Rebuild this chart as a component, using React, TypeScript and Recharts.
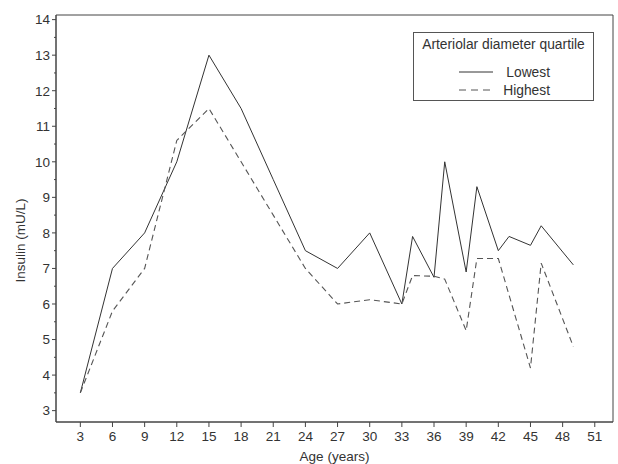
import React from 'react';
import { LineChart, Line, XAxis, YAxis, ReferenceArea, Legend } from 'recharts';

const lowestAges = [3, 6, 9, 12, 15, 18, 21, 24, 27, 30, 33, 34, 36, 37, 39, 40, 42, 43, 45, 46, 49];
const lowestValues = [3.5, 7.0, 8.0, 10.0, 13.0, 11.5, 9.5, 7.5, 7.0, 8.0, 6.0, 7.9, 6.75, 10.0, 6.9, 9.3, 7.5, 7.9, 7.65, 8.2, 7.1];
const highestAges = [3, 6, 9, 12, 15, 18, 21, 24, 27, 30, 33, 34, 36, 37, 39, 40, 42, 45, 46, 49];
const highestValues = [3.5, 5.8, 7.0, 10.6, 11.5, 10.0, 8.5, 7.0, 6.0, 6.12, 6.0, 6.8, 6.78, 6.7, 5.25, 7.28, 7.28, 4.2, 7.15, 4.8];
const xTicks = [3, 6, 9, 12, 15, 18, 21, 24, 27, 30, 33, 36, 39, 42, 45, 48, 51];
const yTicks = [3, 3.5, 4, 4.5, 5, 5.5, 6, 6.5, 7, 7.5, 8, 8.5, 9, 9.5, 10, 10.5, 11, 11.5, 12, 12.5, 13, 13.5, 14];
const seriesNames = ['Lowest', 'Highest'];
const legendTitle = 'Arteriolar diameter quartile';

const lowestData = lowestAges.map((a, i) => ({ age: a, value: lowestValues[i] }));
const highestData = highestAges.map((a, i) => ({ age: a, value: highestValues[i] }));

const FONT = '"Liberation Sans", Arial, Helvetica, sans-serif';
const TEXT = '#333';
const AXIS = '#444';

const XDOMAIN: [number, number] = [0.73, 52.7];
const YDOMAIN: [number, number] = [2.68, 14.13];

const YTick = (props: any) => {
  const { x, y, payload } = props;
  const axisX = x + 6;
  const v = payload.value;
  const major = Math.abs(v - Math.round(v)) < 1e-6;
  return (
    <g>
      <line x1={axisX - (major ? 4 : 2)} x2={axisX} y1={y} y2={y} stroke={AXIS} strokeWidth={1} />
      {major && (
        <text x={x} y={y} dy="0.36em" textAnchor="end" fontSize={13.5} fontFamily={FONT} fill={TEXT}>
          {v}
        </text>
      )}
    </g>
  );
};

const XTick = (props: any) => {
  const { x, y, payload } = props;
  return (
    <text x={x} y={y} dy="0.71em" textAnchor="middle" fontSize={13.5} fontFamily={FONT} fill={TEXT}>
      {payload.value}
    </text>
  );
};

const LegendBox = () => (
  <div
    style={{
      width: 181,
      height: 69,
      border: '1px solid #555',
      boxSizing: 'border-box',
      fontFamily: FONT,
      fontSize: 13.8,
      color: TEXT,
      background: '#fff',
      position: 'relative',
    }}
  >
    <div style={{ position: 'absolute', top: 4, left: 0, width: '100%', textAlign: 'center', whiteSpace: 'nowrap' }}>{legendTitle}</div>
    <svg width={181} height={69} style={{ position: 'absolute', left: 0, top: 0 }}>
      <line x1={45} x2={79} y1={39} y2={39} stroke="#333" strokeWidth={1} />
      <line x1={45} x2={79} y1={57} y2={57} stroke="#555" strokeWidth={1} strokeDasharray="7 5" />
      <text x={136} y={39} dy="0.36em" textAnchor="end" fontSize={13.8} fontFamily={FONT} fill={TEXT}>{seriesNames[0]}</text>
      <text x={136} y={57} dy="0.36em" textAnchor="end" fontSize={13.8} fontFamily={FONT} fill={TEXT}>{seriesNames[1]}</text>
    </svg>
  </div>
);

export default function App() {
  return (
    <div style={{ position: 'absolute', left: 0, top: 0, width: 618, height: 464, background: '#fff', fontFamily: FONT }}>
      <LineChart width={618} height={464} margin={{ top: 15, right: 5, left: 0, bottom: 0 }} style={{ fontFamily: FONT }}>
        <XAxis
          dataKey="age"
          type="number"
          domain={XDOMAIN}
          ticks={xTicks}
          allowDataOverflow
          height={42}
          stroke={AXIS}
          tickSize={5}
          tickMargin={4}
          tick={<XTick />}
          label={{ value: 'Age (years)', position: 'insideBottom', offset: 3, fontSize: 13.5, fontFamily: FONT, fill: TEXT }}
        />
        <YAxis
          type="number"
          domain={YDOMAIN}
          ticks={yTicks}
          allowDataOverflow
          width={56}
          stroke={AXIS}
          tickLine={false}
          tickSize={4}
          tickMargin={2}
          interval={0}
          tick={<YTick />}
          label={{ value: 'Insulin (mU/L)', angle: -90, position: 'insideLeft', offset: 20, dy: 22, fontSize: 13.5, fontFamily: FONT, fill: TEXT, style: { textAnchor: 'middle' } }}
        />
        <ReferenceArea x1={XDOMAIN[0]} x2={XDOMAIN[1]} y1={YDOMAIN[0]} y2={YDOMAIN[1]} fill="none" stroke={AXIS} strokeWidth={1} ifOverflow="visible" />
        <Line data={lowestData} dataKey="value" name={seriesNames[0]} stroke="#333" strokeWidth={1} dot={false} isAnimationActive={false} />
        <Line data={highestData} dataKey="value" name={seriesNames[1]} stroke="#555" strokeWidth={1.1} strokeDasharray="6 4" dot={false} isAnimationActive={false} />
        <Legend
          layout="vertical"
          align="center"
          verticalAlign="middle"
          content={() => <LegendBox />}
          wrapperStyle={{ position: 'absolute', left: 413, top: 32, width: 181, height: 69 }}
        />
      </LineChart>
    </div>
  );
}
